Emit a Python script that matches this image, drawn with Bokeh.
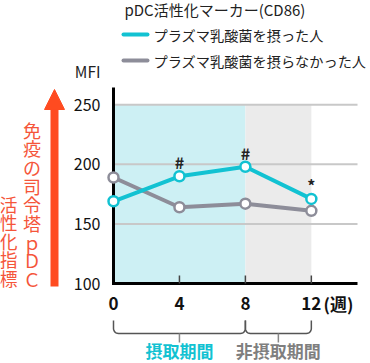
import math
from bokeh.plotting import figure
from bokeh.models import Range1d, Arrow, NormalHead, ColumnDataSource
from bokeh.core.properties import value
from bokeh.embed import file_html
from bokeh.resources import INLINE

# ---------------- data ----------------
weeks = [0, 4, 8, 12]
plasma = [169, 190, 198, 171]        # プラズマ乳酸菌を摂った人
no_plasma = [189, 164, 167, 161]     # プラズマ乳酸菌を摂らなかった人
marks = ["", "#", "#", "*"]
y_ticks = [100, 150, 200, 250]
x_ticks = [0, 4, 8, 12]
x_tick_labels = ["0", "4", "8", "12"]
phase_start = [0, 8]
phase_end = [8, 12]
phase_labels = ["摂取期間", "非摂取期間"]
title_text = "pDC活性化マーカー(CD86)"
legend_labels = ["プラズマ乳酸菌を摂った人", "プラズマ乳酸菌を摂らなかった人"]
axis_arrow_text1 = "免疫の司令塔ｐＤＣ"
axis_arrow_text2 = "活性化指標"

# ---------------- styling ----------------
FONT = "Noto Sans CJK JP"
CYAN = "#12c2d2"
GRAY = "#8d8d99"
RED = "#ff4b20"
RED_TXT = "#f5553a"
W, H = 370, 363
FL, FR, FT, FB = 113, 357, 87, 283     # plot area in canvas pixels
X0, X1 = 0, 14.8
Y0, Y1 = 100, 264.5


def dx(px):
    return X0 + (px - FL) / (FR - FL) * (X1 - X0)


def dy(py):
    return Y0 + (FB - py) / (FB - FT) * (Y1 - Y0)


p = figure(width=W, height=H, output_backend="svg", toolbar_location=None,
           x_range=Range1d(dx(0), dx(W)), y_range=Range1d(dy(H), dy(0)),
           x_axis_location=None, y_axis_location=None, min_border=0)
p.outline_line_color = None
p.background_fill_color = "white"
p.border_fill_color = "white"
p.grid.visible = False


def txt(px, py, text, size, color="#222222", align="left", style="normal"):
    p.text(x=[dx(px)], y=[dy(py)], text=[text], text_font=value(FONT),
           text_font_size=size, text_color=color, text_align=align,
           text_baseline="middle", text_font_style=style)


# shading of periods
p.quad(left=phase_start, right=phase_end, bottom=[y_ticks[0]] * 2, top=[y_ticks[-1]] * 2,
       fill_color=["#cdf0f4", "#ebebeb"], line_color=None)

# grid lines
p.segment(x0=[0] * 3, x1=[dx(FR)] * 3, y0=y_ticks[1:], y1=y_ticks[1:],
          line_color="#c8c8c8", line_width=2)

# axes
p.segment(x0=[0], x1=[0], y0=[dy(FT)], y1=[dy(FB + 1.5)], line_color="black", line_width=3)
p.segment(x0=[dx(FL - 1.5)], x1=[dx(FR)], y0=[100], y1=[100], line_color="black", line_width=3)
p.segment(x0=x_ticks[1:], x1=x_ticks[1:], y0=[100] * 3, y1=[dy(FB - 8)] * 3,
          line_color="#444444", line_width=1.5)
p.text(x=[dx(100)] * len(y_ticks), y=y_ticks, text=[str(t) for t in y_ticks],
       text_font=value(FONT), text_font_size="16px", text_color="#111111",
       text_align="right", text_baseline="middle")
p.text(x=x_ticks, y=[dy(303)] * len(x_ticks), text=x_tick_labels,
       text_font=value(FONT), text_font_size="17px", text_color="#111111",
       text_align="center", text_baseline="middle", text_font_style="bold")
txt(323, 303, "(週)", "17px", color="#111111", style="bold")
txt(100, 70, "MFI", "15.5px", align="right")

# series
src = ColumnDataSource(dict(w=weeks, a=plasma, b=no_plasma, m=marks))
p.line("w", "b", source=src, line_color=GRAY, line_width=4)
p.scatter("w", "b", source=src, size=10, fill_color="white", line_color=GRAY, line_width=2.5)
p.line("w", "a", source=src, line_color=CYAN, line_width=4)
p.scatter("w", "a", source=src, size=10, fill_color="white", line_color=CYAN, line_width=2.5)
p.text("w", "a", text="m", source=src, y_offset=-14, text_align="center",
       text_baseline="middle", text_font=value(FONT), text_font_size="16px",
       text_color="#222222", text_font_style="bold")

# title & legend
txt(124, 9, title_text, "15px")
for i, (lab, col) in enumerate(zip(legend_labels, [CYAN, GRAY])):
    yy = 34 + 26 * i
    p.line(x=[dx(123), dx(147)], y=[dy(yy), dy(yy)], line_color=col, line_width=4,
           line_cap="round")
    txt(153, yy, lab, "14.2px")

# red arrow and vertical texts
p.add_layout(Arrow(end=NormalHead(size=20, fill_color=RED, line_color=RED, line_width=1),
                   x_start=dx(54), y_start=dy(286), x_end=dx(54), y_end=dy(89),
                   line_color=RED, line_width=8))
for i, ch in enumerate(axis_arrow_text1):
    txt(31.5, 129 + 18.7 * i, ch, "18px", color=RED_TXT, align="center")
for i, ch in enumerate(axis_arrow_text2):
    txt(8, 203.5 + 18.4 * i, ch, "18px", color=RED_TXT, align="center")


def xpx(x):
    return FL + (x - X0) / (X1 - X0) * (FR - FL)


# braces under the axis
def brace(x0, x1, ytop=320, ybar=333, r=5):
    pts = [(x0, ytop), (x0, ybar - r)]
    for k in range(1, 7):
        t = math.pi / 2 * k / 6
        pts.append((x0 + r - r * math.cos(t), ybar - r + r * math.sin(t)))
    for k in range(0, 7):
        t = math.pi / 2 * k / 6
        pts.append((x1 - r + r * math.sin(t), ybar - r + r * math.cos(t)))
    pts.append((x1, ytop))
    p.line(x=[dx(a) for a, _ in pts], y=[dy(b) for _, b in pts],
           line_color="#555555", line_width=1.5)


label_colors = [CYAN, "#7f7f7f"]
for s, e, lab, col in zip(phase_start, phase_end, phase_labels, label_colors):
    brace(xpx(s), xpx(e))
    mid = (s + e) / 2
    p.line(x=[mid, mid], y=[dy(333), dy(342)], line_color="#888888", line_width=1.5)
    p.text(x=[mid], y=[dy(350)], text=[lab], text_font=value(FONT), text_font_size="17px",
           text_color=col, text_align="center", text_baseline="middle",
           text_font_style="bold")

html = file_html(p, INLINE)
html = html.replace("<head>", "<head><style>html,body{margin:0;padding:0;overflow:hidden}</style>", 1)
open("out.html", "w").write(html)
